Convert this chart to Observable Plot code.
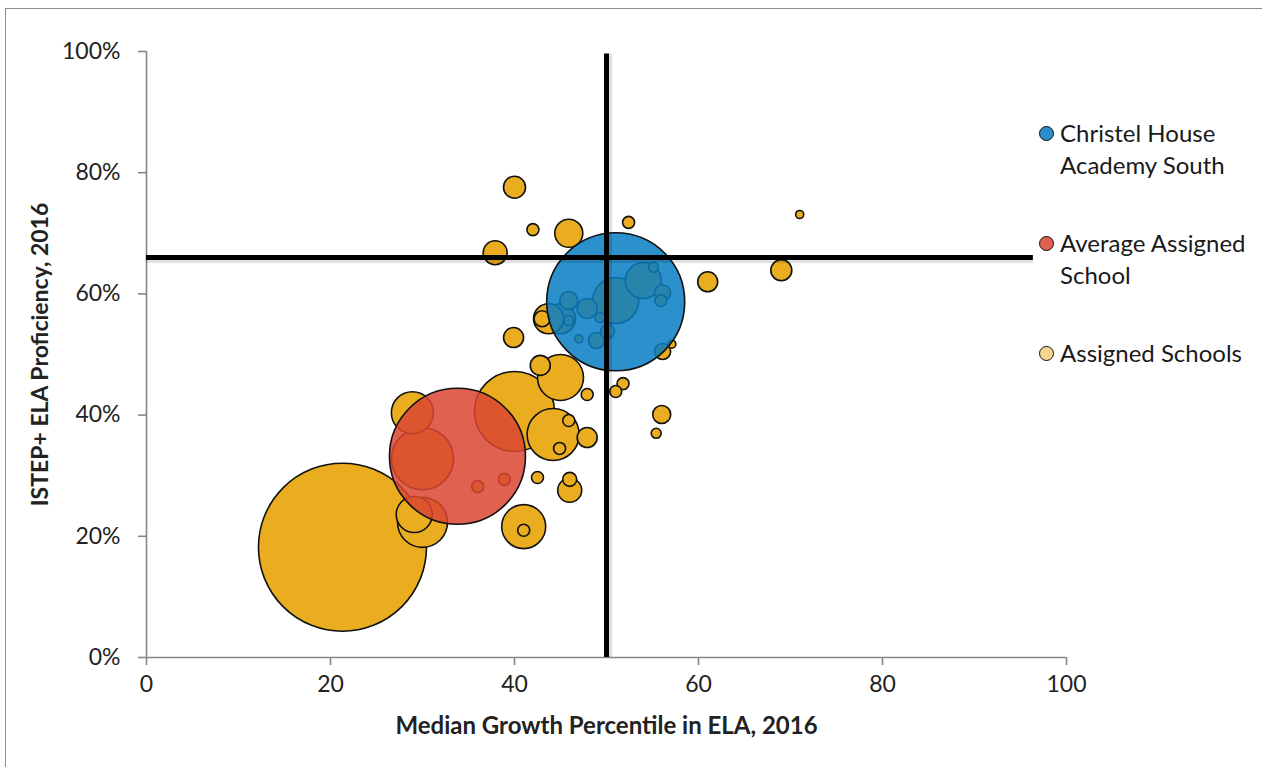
<!DOCTYPE html>
<html>
<head>
<meta charset="utf-8">
<script src="https://cdn.jsdelivr.net/npm/d3@7"></script>
<script src="https://cdn.jsdelivr.net/npm/@observablehq/plot@0.6"></script>
<style>
  body { margin: 0; background: #fff; font-family: Lato, "Open Sans", sans-serif; }
  #wrap { position: relative; width: 1262px; height: 767px; overflow: hidden; background: #fff; }
  #border { position: absolute; left: 5px; top: 8px; width: 1400px; height: 900px; border: 1.5px solid #8c8c8c; pointer-events: none; }
  #chart { position: absolute; left: 0; top: 0; }
  .leg { position: absolute; left: 1039px; font-size: 24px; line-height: 32px; color: #1a1a1a; }
  .leg .mk { position: absolute; left: 0; top: 9px; width: 15px; height: 15px; border-radius: 50%; border: 1.6px solid #111; box-sizing: border-box; }
  .leg .tx { margin-left: 21px; white-space: nowrap; }
</style>
</head>
<body>
<div id="wrap">
  <div id="chart"></div>
  <div id="border"></div>
</div>
<script>
// Assigned schools: growth percentile (x), proficiency % (y), relative enrollment (size)
const assignedX = [21.3, 40.0, 42.0, 45.9, 37.9, 52.4, 71.0, 69.0, 61.0, 51.0,
                   54.0, 55.1, 56.1, 55.9, 45.9, 47.9, 45.0, 45.9, 47.0, 48.9,
                   50.1, 49.3, 56.1, 57.1, 43.7, 43.0, 39.9, 51.8, 51.0, 47.9,
                   40.0, 45.0, 42.8, 44.2, 45.9, 44.9, 47.9, 42.5, 46.0, 46.0,
                   41.0, 41.0, 28.9, 30.0, 36.0, 38.9, 30.0, 29.1, 56.0, 55.4];
const assignedY = [18.2, 77.6, 70.6, 70.0, 66.8, 71.8, 73.1, 63.9, 62.0, 58.9,
                   62.2, 64.4, 60.2, 58.9, 58.9, 57.6, 55.9, 55.6, 52.6, 52.3,
                   53.8, 56.1, 50.5, 51.7, 55.9, 55.9, 52.8, 45.2, 43.9, 43.4,
                   40.6, 46.2, 48.2, 36.8, 39.1, 34.5, 36.3, 29.7, 27.6, 29.4,
                   21.6, 21.0, 40.4, 32.8, 28.2, 29.4, 22.3, 23.6, 40.1, 37.0];
const assignedSize = [7056, 121, 36, 196, 144, 36, 16, 110, 100, 529,
                      324, 25, 64, 36, 81, 100, 225, 25, 16, 64,
                      49, 25, 64, 16, 225, 64, 100, 36, 36, 36,
                      1600, 529, 100, 676, 36, 36, 100, 36, 144, 49,
                      484, 36, 441, 961, 36, 36, 625, 324, 81, 25];

const christelX = [51.0], christelY = [58.7], christelSize = [4761];
const averageX = [33.8], averageY = [33.2], averageSize = [4624];

const xTicks = [0, 20, 40, 60, 80, 100];
const yTicks = [0, 20, 40, 60, 80, 100];

const growthBenchmark = 50;       // vertical reference line (x)
const proficiencyBenchmark = 66;  // horizontal reference line (y)
const vLineExtent = [0, 99.6];
const hLineExtent = [0, 96.4];

const xTitle = "Median Growth Percentile in ELA, 2016";
const yTitle = "ISTEP+ ELA Proficiency, 2016";
const legendLabels = [["Christel House", "Academy South"], ["Average Assigned", "School"], ["Assigned Schools"]];

const assigned = assignedX.map((x, i) => ({x, y: assignedY[i], size: assignedSize[i]}))
  .sort((a, b) => b.size - a.size);
const christel = christelX.map((x, i) => ({x, y: christelY[i], size: christelSize[i]}));
const average = averageX.map((x, i) => ({x, y: averageY[i], size: averageSize[i]}));

const YELLOW = "#E9AD1F", BLUE = "#067CC3", RED = "#DB4531";
const TEXT = "#222";

const chart = Plot.plot({
  width: 1262,
  height: 767,
  marginLeft: 146,
  marginRight: 196,
  marginTop: 51,
  marginBottom: 110,
  style: {fontFamily: "Lato, 'Open Sans', sans-serif", fontSize: "23px", color: TEXT, background: "transparent", overflow: "visible"},
  x: {domain: [0, 100]},
  y: {domain: [0, 100]},
  r: {type: "sqrt", domain: [0, 10000], range: [0, 100]},
  marks: [
    Plot.ruleY([0], {stroke: "#868686", strokeWidth: 1.6}),
    Plot.ruleX([0], {stroke: "#868686", strokeWidth: 1.6}),
    Plot.axisX({ticks: xTicks, tickSize: 8, tickPadding: 10, stroke: "#868686", strokeWidth: 1.6, fill: TEXT, fontSize: 23, label: null}),
    Plot.axisY({ticks: yTicks, tickSize: 8, tickPadding: 18, stroke: "#868686", strokeWidth: 1.6, fill: TEXT, fontSize: 23, tickFormat: d => d + "%", label: null}),
    Plot.dot(assigned, {x: "x", y: "y", r: "size", fill: YELLOW, stroke: "#111", strokeWidth: 1.6}),
    Plot.dot(average, {x: "x", y: "y", r: "size", fill: RED, fillOpacity: 0.85, stroke: "#111", strokeWidth: 1.6}),
    Plot.dot(christel, {x: "x", y: "y", r: "size", fill: BLUE, fillOpacity: 0.85, stroke: "#111", strokeWidth: 1.6}),
    // soft shadows of reference lines
    Plot.ruleY([proficiencyBenchmark], {x1: hLineExtent[0], x2: hLineExtent[1], stroke: "#000", strokeOpacity: 0.12, strokeWidth: 5, dy: 3}),
    Plot.ruleX([growthBenchmark], {y1: vLineExtent[0], y2: vLineExtent[1], stroke: "#000", strokeOpacity: 0.12, strokeWidth: 5, dx: 3}),
    Plot.ruleY([proficiencyBenchmark], {x1: hLineExtent[0], x2: hLineExtent[1], stroke: "#000", strokeWidth: 5}),
    Plot.ruleX([growthBenchmark], {y1: vLineExtent[0], y2: vLineExtent[1], stroke: "#000", strokeWidth: 5}),
    Plot.text([xTitle], {frameAnchor: "bottom", dy: 76, fontWeight: "bold", fontSize: 24, fill: TEXT}),
    Plot.text([yTitle], {frameAnchor: "left", textAnchor: "middle", dx: -106, rotate: -90, fontWeight: "bold", fontSize: 23, fill: TEXT})
  ]
});
document.getElementById("chart").appendChild(chart);

// legend (HTML, positioned beside the plot)
const legendColors = ["#2B8FCB", "#E0604E", "#F6D58C"];
const legendTops = [117, 227, 337];
const wrap = document.getElementById("wrap");
legendLabels.forEach((lines, i) => {
  const d = document.createElement("div");
  d.className = "leg";
  d.style.top = legendTops[i] + "px";
  d.innerHTML = `<span class="mk" style="background:${legendColors[i]}"></span><div class="tx">${lines.join("<br>")}</div>`;
  wrap.appendChild(d);
});
</script>
</body>
</html>
